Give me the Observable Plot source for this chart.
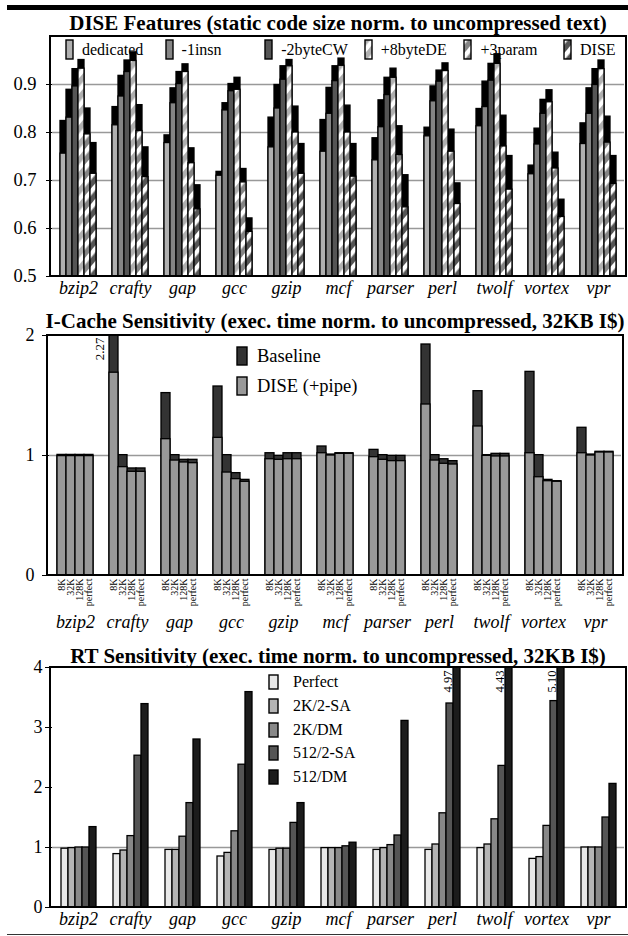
<!DOCTYPE html>
<html><head><meta charset="utf-8">
<script src="https://cdn.jsdelivr.net/npm/d3@7"></script>
<script src="https://cdn.jsdelivr.net/npm/@observablehq/plot@0.6"></script>
<style>
html,body{margin:0;padding:0;background:#fff;}
#root{position:relative;width:628px;height:936px;overflow:hidden;font-family:"Liberation Serif","Times New Roman",serif;color:#000;}
#root svg text{font-family:"Liberation Serif","Times New Roman",serif !important;}
.abs{position:absolute;}
.title{position:absolute;font-weight:bold;font-size:21px;line-height:21px;text-align:center;white-space:nowrap;z-index:2}
.leg{position:absolute;z-index:3}
.leg .it{position:absolute;display:flex;align-items:center;white-space:nowrap}
.leg svg{display:block;flex:none}
g[aria-label="fx-axis tick label"] text{font-style:italic}
</style></head>
<body>
<svg width="0" height="0" style="position:absolute"><defs>
<pattern id="stripeLight" patternUnits="userSpaceOnUse" width="10" height="10" patternTransform="rotate(40)">
<rect width="10" height="10" fill="#ffffff"/><rect width="5.5" height="10" fill="#b0b0b0"/></pattern>
<pattern id="stripeMid" patternUnits="userSpaceOnUse" width="10" height="10" patternTransform="rotate(40)">
<rect width="10" height="10" fill="#858585"/><rect width="4.5" height="10" fill="#ffffff"/></pattern>
<pattern id="stripeDark" patternUnits="userSpaceOnUse" width="10" height="10" patternTransform="rotate(40)">
<rect width="10" height="10" fill="#555555"/><rect width="4.5" height="10" fill="#ffffff"/></pattern>
</defs></svg>
<div id="root">
 <div class="abs" style="left:7px;top:5px;width:621px;height:5px;background:#000"></div>
 <div class="abs" style="left:7px;top:934px;width:621px;height:1.3px;background:#333"></div>
 <div id="p1" class="abs" style="left:0;top:30px"></div>
 <div id="p2" class="abs" style="left:0;top:330px"></div>
 <div id="p3" class="abs" style="left:0;top:662px"></div>
 <div class="title" style="left:50px;width:576px;top:13px">DISE Features (static code size norm. to uncompressed text)</div>
 <div class="title" style="left:40px;width:590px;top:311px">I-Cache Sensitivity (exec. time norm. to uncompressed, 32KB I$)</div>
 <div class="title" style="left:50px;width:576px;top:646px">RT Sensitivity (exec. time norm. to uncompressed, 32KB I$)</div>
 <div id="leg1" class="leg" style="left:0;top:39px"></div>
 <div id="leg2" class="leg" style="left:236px;top:346px"></div>
 <div id="leg3" class="leg" style="left:268px;top:674px"></div>
</div>
<script>
// ---------- shared ----------
const BENCH = ["bzip2","crafty","gap","gcc","gzip","mcf","parser","perl","twolf","vortex","vpr"];

// ---------- panel 1: DISE features (top of black part / top of patterned part) ----------
const FEATURES = ["dedicated","-1insn","-2byteCW","+8byteDE","+3param","DISE"];
const dedicatedTotal = [0.824,0.853,0.794,0.718,0.831,0.826,0.788,0.810,0.849,0.731,0.819];
const dedicatedInner = [0.756,0.815,0.778,0.710,0.769,0.760,0.742,0.792,0.813,0.713,0.776];
const insnTotal      = [0.889,0.918,0.892,0.861,0.899,0.893,0.867,0.896,0.906,0.808,0.892];
const insnInner      = [0.831,0.875,0.861,0.846,0.850,0.839,0.811,0.865,0.853,0.775,0.839];
const cwTotal        = [0.932,0.950,0.926,0.901,0.938,0.938,0.914,0.929,0.943,0.868,0.932];
const cwInner        = [0.896,0.926,0.901,0.886,0.910,0.907,0.878,0.906,0.908,0.839,0.899];
const deTotal        = [0.951,0.967,0.942,0.914,0.951,0.954,0.933,0.944,0.963,0.888,0.950];
const deInner        = [0.933,0.949,0.926,0.889,0.938,0.939,0.914,0.928,0.943,0.863,0.932];
const paramTotal     = [0.850,0.857,0.767,0.724,0.854,0.856,0.813,0.806,0.835,0.758,0.833];
const paramInner     = [0.796,0.803,0.736,0.696,0.800,0.800,0.753,0.760,0.771,0.725,0.779];
const diseTotal      = [0.778,0.769,0.690,0.621,0.776,0.776,0.711,0.694,0.751,0.660,0.751];
const diseInner      = [0.714,0.707,0.640,0.593,0.714,0.708,0.644,0.651,0.681,0.624,0.693];
const P1_BASE = 0.5;
const P1_TICKS = [0.5,0.6,0.7,0.8,0.9];
const P1_GRID = [0.6,0.7,0.8,0.9];

// ---------- panel 2: I-cache sensitivity ----------
const CACHE = ["8K","32K","128K","perfect"];
const base8K    = [1.005,2.27,1.52,1.575,1.019,1.075,1.047,1.925,1.536,1.697,1.231];
const dise8K    = [0.995,1.69,1.136,1.147,0.969,1.019,0.986,1.425,1.242,1.019,1.019];
const base32K   = [1.005,1.003,1.003,1.003,0.997,1.008,1.003,1.003,1.003,1.003,1.008];
const dise32K   = [0.995,0.903,0.958,0.858,0.964,1.000,0.964,0.958,0.997,0.819,1.000];
const base128K  = [1.005,0.892,0.964,0.853,1.019,1.019,0.997,0.969,1.014,0.797,1.031];
const dise128K  = [0.995,0.864,0.942,0.803,0.969,1.014,0.953,0.931,0.992,0.786,1.025];
const basePerf  = [1.005,0.892,0.964,0.797,1.019,1.019,0.997,0.953,1.014,0.786,1.031];
const disePerf  = [0.995,0.864,0.936,0.781,0.969,1.014,0.953,0.925,0.992,0.781,1.025];
const P2_SERIES = ["Baseline","DISE (+pipe)"];

// ---------- panel 3: RT sensitivity ----------
const RT = ["Perfect","2K/2-SA","2K/DM","512/2-SA","512/DM"];
const rtPerfect = [0.98,0.89,0.96,0.85,0.96,0.99,0.96,0.96,0.99,0.81,1.00];
const rt2K2SA   = [0.99,0.95,0.96,0.91,0.98,0.99,0.99,1.05,1.05,0.84,1.00];
const rt2KDM    = [1.00,1.19,1.18,1.27,0.98,0.99,1.04,1.57,1.47,1.36,1.00];
const rt5122SA  = [1.00,2.53,1.74,2.38,1.41,1.02,1.20,3.40,2.36,3.44,1.50];
const rt512DM   = [1.34,3.39,2.80,3.59,1.74,1.08,3.11,4.97,4.43,5.10,2.06];

// ---------- styles ----------
const SERIF = "Liberation Serif, Times New Roman, serif";
const FEAT_FILL = ["#b0b0b0","#858585","#555555","url(#stripeLight)","url(#stripeMid)","url(#stripeDark)"];
const P2_FILL = ["#333333","#999999"];
const RT_FILL = ["#e8e8e8","#b4b4b4","#888888","#555555","#1c1c1c"];

// ---------- tables ----------
const p1Tot = [dedicatedTotal,insnTotal,cwTotal,deTotal,paramTotal,diseTotal];
const p1Inn = [dedicatedInner,insnInner,cwInner,deInner,paramInner,diseInner];
const p1 = [];
BENCH.forEach((b,i)=>FEATURES.forEach((f,j)=>p1.push({bench:b,feature:f,total:p1Tot[j][i],inner:p1Inn[j][i]})));
const p2Base = [base8K,base32K,base128K,basePerf];
const p2Dise = [dise8K,dise32K,dise128K,disePerf];
const p2 = [];
BENCH.forEach((b,i)=>CACHE.forEach((c,j)=>p2.push({bench:b,cache:c,base:p2Base[j][i],dise:p2Dise[j][i]})));
const p3Vals = [rtPerfect,rt2K2SA,rt2KDM,rt5122SA,rt512DM];
const p3 = [];
BENCH.forEach((b,i)=>RT.forEach((r,j)=>p3.push({bench:b,rt:r,value:p3Vals[j][i]})));

function addFrame(svg,o,sw){
  d3.select(svg).append("rect")
    .attr("x",o.marginLeft).attr("y",o.marginTop)
    .attr("width",o.width-o.marginLeft-o.marginRight)
    .attr("height",o.height-o.marginTop-o.marginBottom)
    .attr("fill","none").attr("stroke","#000").attr("stroke-width",sw);
  d3.select(svg).selectAll("text").attr("font-family",SERIF);
}
const baseStyle = {fontFamily:SERIF, background:"transparent", overflow:"visible", color:"#000"};
const intFmt = d => String(d);
const T = {fontFamily:SERIF};

// ---------- plot 1 ----------
const o1 = {width:628,height:272,marginLeft:50,marginRight:2,marginTop:6,marginBottom:26};
const svg1 = Plot.plot({
  ...o1, style:baseStyle,
  fx:{domain:BENCH,padding:0},
  x:{domain:FEATURES,paddingInner:0,paddingOuter:0.8,axis:null},
  y:{domain:[P1_BASE,1.0]},
  color:{domain:FEATURES,range:FEAT_FILL},
  marks:[
    Plot.ruleY(P1_GRID,{stroke:"#999",strokeWidth:1.5}),
    Plot.barY(p1,{fx:"bench",x:"feature",y1:P1_BASE,y2:"total",fill:"#000",stroke:"#000",strokeWidth:1.3}),
    Plot.barY(p1,{fx:"bench",x:"feature",y1:P1_BASE,y2:"inner",fill:"feature",stroke:"#000",strokeWidth:1.3}),
    Plot.axisY({...T,ticks:P1_TICKS,tickFormat:".1f",tickSize:6,tickPadding:10,fontSize:18.5,label:null}),
    Plot.axisFx({...T,anchor:"bottom",tickSize:0,tickPadding:5,fontSize:18,fontStyle:"italic",label:null})
  ]
});
addFrame(svg1,o1,2);
document.getElementById("p1").appendChild(svg1);

// ---------- plot 2 ----------
const o2 = {width:628,height:307,marginLeft:47,marginRight:5,marginTop:5,marginBottom:62};
const svg2 = Plot.plot({
  ...o2, style:baseStyle,
  fx:{domain:BENCH,padding:0},
  x:{domain:CACHE,paddingInner:0,paddingOuter:0.86},
  y:{domain:[0,2]},
  marks:[
    Plot.ruleY([1],{stroke:"#999",strokeWidth:1.5}),
    Plot.barY(p2,{fx:"bench",x:"cache",y:"base",fill:P2_FILL[0],stroke:"#000",strokeWidth:1.3,clip:true}),
    Plot.barY(p2,{fx:"bench",x:"cache",y:"dise",fill:P2_FILL[1],stroke:"#000",strokeWidth:1.3,clip:true}),
    Plot.text(p2.filter(d=>d.base>2),{...T,fx:"bench",x:"cache",y:2,text:d=>d.base.toFixed(2),rotate:-90,textAnchor:"end",lineAnchor:"bottom",dx:-10,dy:2,fontSize:13}),
    Plot.axisY({...T,ticks:[0,1,2],tickFormat:intFmt,tickSize:7,tickPadding:8,fontSize:18,label:null}),
    Plot.axisX({...T,anchor:"bottom",tickRotate:-90,tickSize:0,tickPadding:3,fontSize:10,label:null}),
    Plot.axisFx({...T,anchor:"bottom",tickSize:0,tickPadding:40,fontSize:18,fontStyle:"italic",label:null})
  ]
});
addFrame(svg2,o2,2);
document.getElementById("p2").appendChild(svg2);

// ---------- plot 3 ----------
const o3 = {width:628,height:270,marginLeft:50,marginRight:2,marginTop:5,marginBottom:25};
const svg3 = Plot.plot({
  ...o3, style:baseStyle,
  fx:{domain:BENCH,padding:0},
  x:{domain:RT,paddingInner:0,paddingOuter:0.83,axis:null},
  y:{domain:[0,4]},
  color:{domain:RT,range:RT_FILL},
  marks:[
    Plot.ruleY([1],{stroke:"#999",strokeWidth:1.5}),
    Plot.barY(p3,{fx:"bench",x:"rt",y:"value",fill:"rt",stroke:"#000",strokeWidth:1.3,clip:true}),
    Plot.text(p3.filter(d=>d.value>4),{...T,fx:"bench",x:"rt",y:4,text:d=>d.value.toFixed(2),rotate:-90,textAnchor:"end",lineAnchor:"bottom",dx:-5.5,dy:3,fontSize:12.5}),
    Plot.axisY({...T,ticks:[0,1,2,3,4],tickFormat:intFmt,tickSize:7,tickPadding:3,fontSize:18,label:null}),
    Plot.axisFx({...T,anchor:"bottom",tickSize:0,tickPadding:5,fontSize:18,fontStyle:"italic",label:null})
  ]
});
addFrame(svg3,o3,2);
document.getElementById("p3").appendChild(svg3);

// ---------- legends ----------
function swatch(w,h,fill){
  return `<svg width="${w+2}" height="${h+2}"><rect x="1" y="1" width="${w}" height="${h}" fill="${fill}" stroke="#000" stroke-width="1.4"/></svg>`;
}
const leg1 = document.getElementById("leg1");
FEATURES.forEach((f,i)=>{
  const d = document.createElement("div"); d.className="it";
  d.style.left = (65 + 99.6*i) + "px"; d.style.top = "0px";
  d.innerHTML = swatch(7,19,FEAT_FILL[i]) + `<span style="font-size:16px;line-height:16px;margin-left:8px">${f}</span>`;
  leg1.appendChild(d);
});
const leg2 = document.getElementById("leg2");
P2_SERIES.forEach((s,i)=>{
  const d = document.createElement("div"); d.className="it";
  d.style.left = "0px"; d.style.top = (30*i) + "px";
  d.innerHTML = swatch(10,18,P2_FILL[i]) + `<span style="font-size:18.5px;line-height:18.5px;margin-left:9px">${s}</span>`;
  leg2.appendChild(d);
});
const leg3 = document.getElementById("leg3");
RT.forEach((s,i)=>{
  const d = document.createElement("div"); d.className="it";
  d.style.left = "0px"; d.style.top = (23.8*i) + "px";
  d.innerHTML = swatch(9,14,RT_FILL[i]) + `<span style="font-size:16px;line-height:16px;margin-left:14px">${s}</span>`;
  leg3.appendChild(d);
});
</script>
</body></html>
